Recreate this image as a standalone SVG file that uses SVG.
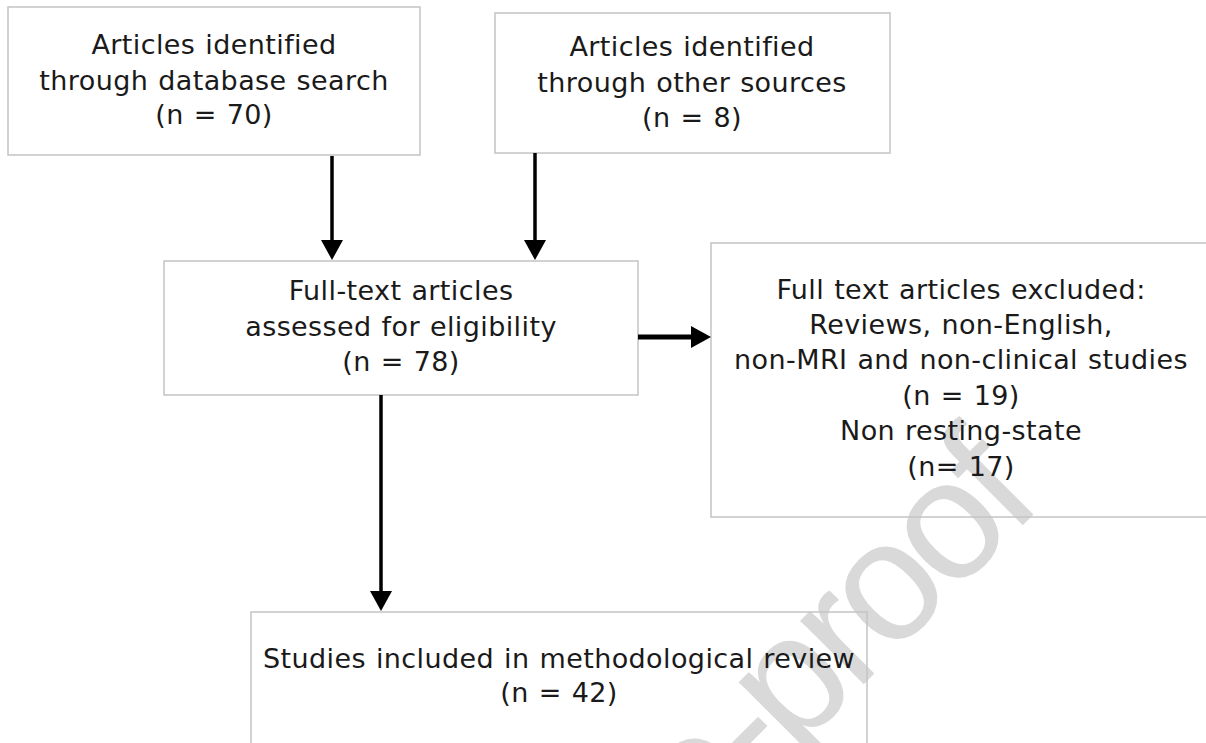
<svg xmlns="http://www.w3.org/2000/svg" width="1206" height="743" viewBox="0 0 1206 743">
  <style>
    .box { fill: none; stroke: #c4c4c4; stroke-width: 1.5; }
    .lbl { font-family: "DejaVu Sans", Verdana, sans-serif; font-size: 27px; fill: #1a1a1a; text-anchor: middle; letter-spacing: 0.4px; word-spacing: 1px; }
    .edge { stroke: #000; stroke-width: 3.5; fill: none; marker-end: url(#arrow); }
    .edge.thick { stroke-width: 5; }
    .wm { font-family: "Liberation Sans", Arial, sans-serif; font-size: 170px; letter-spacing: -8px; fill: #d9d9d9; text-anchor: end; }
  </style>
  <defs>
    <marker id="arrow" markerUnits="userSpaceOnUse" viewBox="0 0 20 22" markerWidth="20" markerHeight="22" refX="10" refY="11" orient="auto">
      <path d="M0,0 L20,11 L0,22 Z" fill="#000"/>
    </marker>
  </defs>
  <rect width="1206" height="743" fill="#fff"/>
  <text class="wm" transform="translate(1040,508) rotate(-45)" x="0" y="0">Journal Pre-proof</text>

  <g id="node-database">
    <rect class="box" x="8" y="7" width="412" height="148"/>
    <text class="lbl" x="214" y="54">Articles identified</text>
    <text class="lbl" x="214" y="90">through database search</text>
    <text class="lbl" x="214" y="124">(n = 70)</text>
  </g>
  <g id="node-other">
    <rect class="box" x="495" y="13" width="395" height="140"/>
    <text class="lbl" x="692" y="56">Articles identified</text>
    <text class="lbl" x="692" y="92">through other sources</text>
    <text class="lbl" x="692" y="127">(n = 8)</text>
  </g>
  <g id="node-fulltext">
    <rect class="box" x="164" y="261" width="474" height="134"/>
    <text class="lbl" x="401" y="300">Full-text articles</text>
    <text class="lbl" x="401" y="336">assessed for eligibility</text>
    <text class="lbl" x="401" y="371">(n = 78)</text>
  </g>
  <g id="node-excluded">
    <rect class="box" x="711" y="243" width="500" height="274"/>
    <text class="lbl" x="961" y="299">Full text articles excluded:</text>
    <text class="lbl" x="961" y="334">Reviews, non-English,</text>
    <text class="lbl" x="961" y="369">non-MRI and non-clinical studies</text>
    <text class="lbl" x="961" y="405">(n = 19)</text>
    <text class="lbl" x="961" y="440">Non resting-state</text>
    <text class="lbl" x="961" y="476">(n= 17)</text>
  </g>
  <g id="node-included">
    <rect class="box" x="251" y="612" width="616" height="200"/>
    <text class="lbl" x="559" y="668">Studies included in methodological review</text>
    <text class="lbl" x="559" y="702">(n = 42)</text>
  </g>

  <g id="connectors">
    <line class="edge" x1="332" y1="156" x2="332" y2="250"/>
    <line class="edge" x1="535" y1="153" x2="535" y2="250"/>
    <line class="edge thick" x1="638" y1="337" x2="701" y2="337"/>
    <line class="edge" x1="381" y1="395" x2="381" y2="601"/>
  </g>
</svg>
